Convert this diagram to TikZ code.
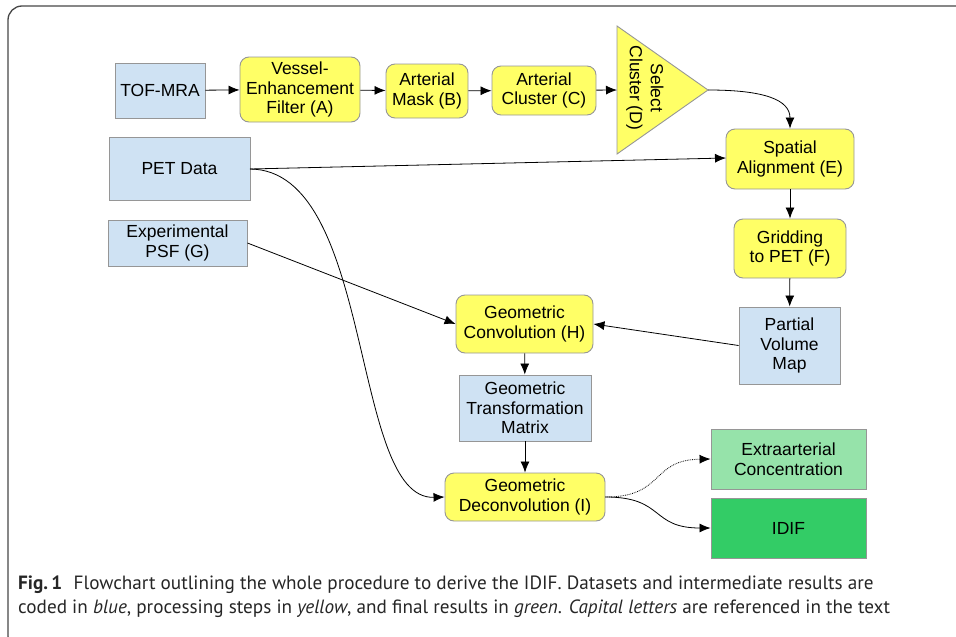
\documentclass[tikz,border=0pt]{standalone}
\usepackage{fontspec}
\setmainfont{Liberation Sans}
\newfontfamily\capfont{PT Sans}
\usetikzlibrary{arrows.meta}
\definecolor{bluebox}{RGB}{207,226,243}
\definecolor{yellowbox}{RGB}{255,255,102}
\definecolor{lightgreen}{RGB}{150,227,170}
\definecolor{darkgreen}{RGB}{51,204,102}
\definecolor{boxborder}{RGB}{150,150,150}
\definecolor{framecol}{RGB}{70,70,70}
\tikzset{
  base/.style={draw=boxborder, line width=0.9pt, align=center, inner sep=0pt,
    font=\fontsize{17.5}{19.5}\selectfont},
  databox/.style={base, fill=bluebox},
  procbox/.style={base, fill=yellowbox, rounded corners=9pt},
  resultlight/.style={base, fill=lightgreen},
  resultdark/.style={base, fill=darkgreen},
  conn/.style={-{Latex[length=11pt,width=9pt]}, line width=0.8pt, black},
  captext/.style={anchor=base west, inner sep=0pt, font=\capfont\fontsize{19.2}{23}\selectfont, text=black!85},
}
\newcommand{\boxat}[7]{% name, style, x1, y1, x2, y2, text
  \node[#2, minimum width=#5-#3, minimum height=#6-#4] (#1) at ({(#3+#5)/2},{(#4+#6)/2}) {#7};}
\begin{document}
\begin{tikzpicture}[x=1pt,y=-1pt]
\useasboundingbox (0,0) rectangle (956,637);
\begin{scope}
\clip (0,0) rectangle (956,637);
\draw[framecol, line width=1.3pt, rounded corners=14pt] (8,6) rectangle (980,650);
\end{scope}
% nodes
\boxat{tof}{databox}{115}{63}{205}{118}{TOF-MRA}
\boxat{A}{procbox}{240}{57}{360}{122}{Vessel-\\Enhancement\\Filter (A)}
\boxat{B}{procbox}{386}{64}{468}{118}{Arterial\\Mask (B)}
\boxat{C}{procbox}{492}{66}{596}{115}{Arterial\\Cluster (C)}
\draw[boxborder, fill=yellowbox, line width=0.9pt] (617,26) -- (708,90) -- (617,154) -- cycle;
\coordinate (Din) at (617,90);
\coordinate (Dout) at (708,90);
\node[rotate=-90, align=center, inner sep=0pt, font=\fontsize{17.5}{21}\selectfont] (D) at (645,88) {Select\\Cluster (D)};
\boxat{E}{procbox}{726}{129}{854}{189}{Spatial\\Alignment (E)}
\boxat{F}{procbox}{734}{219}{846}{278}{Gridding\\to PET (F)}
\boxat{PV}{databox}{739}{307}{840}{384}{Partial\\Volume\\Map}
\boxat{PET}{databox}{109}{137}{250}{200}{PET Data}
\boxat{PSF}{databox}{108}{220}{247}{266}{Experimental\\PSF (G)}
\boxat{H}{procbox}{456}{295}{593}{353}{Geometric\\Convolution (H)}
\boxat{GTM}{databox}{459}{375}{591}{441}{Geometric\\Transformation\\Matrix}
\boxat{I}{procbox}{445}{473}{605}{521}{Geometric\\Deconvolution (I)}
\boxat{EX}{resultlight}{711}{429}{866}{489}{Extraarterial\\Concentration}
\boxat{IDIF}{resultdark}{711}{498}{866}{558}{IDIF}
% connectors
\draw[conn] (tof) -- (A);
\draw[conn] (A) -- (B);
\draw[conn] (B) -- (C);
\draw[conn] (C) -- (Din);
\draw[conn] (Dout) .. controls (765,90) and (790,100) .. (E.north);
\coordinate (PETo) at (250,169);
\draw[conn] (PETo) -- (726,158);
\draw[conn] (PETo) .. controls (375,170) and (350,500) .. (I.west);
\draw[conn] (PSF.east) -- (H.west);
\draw[conn] (E) -- (F);
\draw[conn] (F) -- (PV);
\draw[conn] (PV.west) -- (H.east);
\draw[conn] (H) -- (GTM);
\draw[conn] (GTM) -- (I);
\draw[conn, densely dotted] (I.east) .. controls (665,497) and (650,460) .. (EX.west);
\draw[conn] (I.east) .. controls (665,497) and (650,528) .. (IDIF.west);
% caption
\node[captext] (cap1) at (18,589)
  {\textbf{Fig.\,1}\hspace{0.6em}Flowchart outlining the whole procedure to derive the IDIF. Datasets and intermediate results are};
\node[captext] (cap2) at (18,613)
  {coded in \textit{blue}, processing steps in \textit{yellow}, and final results in \textit{green}. \textit{Capital letters} are referenced in the text};
\end{tikzpicture}
\end{document}
